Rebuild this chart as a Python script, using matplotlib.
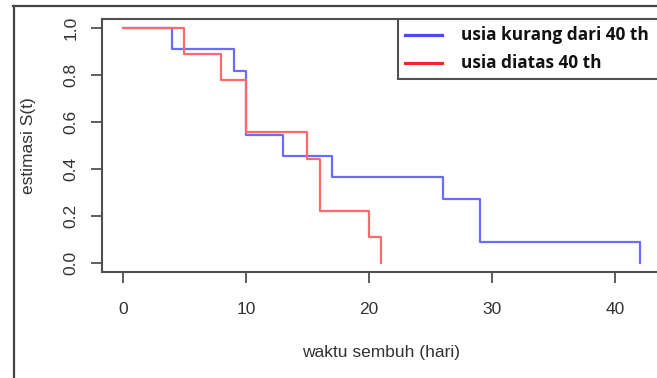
import matplotlib
matplotlib.use("Agg")
import matplotlib.pyplot as plt
from matplotlib.lines import Line2D
from matplotlib.patches import Rectangle

# Data
blue_times = [0, 4, 9, 10, 13, 17, 26, 29, 42]
blue_surv = [1.0, 0.909, 0.818, 0.545, 0.455, 0.364, 0.273, 0.091, 0.0]
red_times = [0, 5, 8, 10, 15, 16, 20, 21]
red_surv = [1.0, 0.889, 0.778, 0.556, 0.444, 0.222, 0.111, 0.0]
x_ticks = [0, 10, 20, 30, 40]
y_ticks = [0.0, 0.2, 0.4, 0.6, 0.8, 1.0]
y_tick_labels = ["0.0", "0.2", "0.4", "0.6", "0.8", "1.0"]
legend_labels = ["usia kurang dari 40 th", "usia diatas 40 th"]
x_label = "waktu sembuh (hari)"
y_label = "estimasi S(t)"

W, H = 657, 378
fig = plt.figure(figsize=(W / 100, H / 100), dpi=100)
fig.patch.set_facecolor("white")

def fx(px):
    return px / W

def fy(py):
    return 1 - py / H

# Axes placement (pixels)
ax_l, ax_r, ax_t, ax_b = 102.3, 660.3, 18.6, 272.4
ax = fig.add_axes([fx(ax_l), fy(ax_b), fx(ax_r) - fx(ax_l), fy(ax_t) - fy(ax_b)])
ax.set_xlim(-1.68, 43.68)
ax.set_ylim(-0.04, 1.04)

frame_col = "#505050"
for s in ax.spines.values():
    s.set_color(frame_col)
    s.set_linewidth(1.5)

ax.step(blue_times, blue_surv, where="post", color="#6b6bff", lw=1.6)
ax.step(red_times, red_surv, where="post", color="#ff6b6b", lw=1.6)

tick_font = dict(family=["Liberation Sans", "DejaVu Sans"], size=12.5)
ax.set_xticks(x_ticks)
ax.set_xticklabels([str(t) for t in x_ticks], color="#333333", **tick_font)
ax.set_yticks(y_ticks)
ax.set_yticklabels(y_tick_labels, rotation=90, va="center", color="#333333", **tick_font)
ax.tick_params(axis="both", length=8, width=1.3, color=frame_col)
ax.tick_params(axis="x", pad=13)
ax.tick_params(axis="y", pad=9)

ax.set_xlabel(x_label, color="#333333", **tick_font)
ax.xaxis.set_label_coords((381.5 - ax_l) / (ax_r - ax_l), (ax_b - 353) / (ax_b - ax_t))
ax.xaxis.label.set_va("center")
ax.set_ylabel(y_label, color="#333333", **tick_font)
ax.yaxis.set_label_coords((28.3 - ax_l) / (ax_r - ax_l), 0.5)
ax.yaxis.label.set_va("center")
ax.yaxis.label.set_ha("center")

# Outer frame lines of the screenshot
fig.add_artist(Line2D([fx(12.5), fx(W + 5)], [fy(6.3), fy(6.3)], color="#444444", lw=1.6))
fig.add_artist(Line2D([fx(13.7), fx(13.7)], [fy(6.3), fy(H + 5)], color="#444444", lw=1.6))

# Legend box
fig.add_artist(Rectangle((fx(397.5), fy(79)), fx(W + 10) - fx(397.5), fy(19) - fy(79),
                         transform=fig.transFigure, facecolor="white",
                         edgecolor=frame_col, lw=1.5))
leg_cols = ["#4a4aee", "#ee2a2a"]
leg_y = [35.0, 63.0]
for lab, c, yy in zip(legend_labels, leg_cols, leg_y):
    fig.add_artist(Line2D([fx(405), fx(441.7)], [fy(yy), fy(yy)], color=c, lw=2.3))
    fig.text(fx(461), fy(yy), lab, ha="left", va="center", fontsize=12.4,
             fontweight="bold", family=["Open Sans", "DejaVu Sans"], color="#111111")

fig.savefig("out.png", dpi=100)
